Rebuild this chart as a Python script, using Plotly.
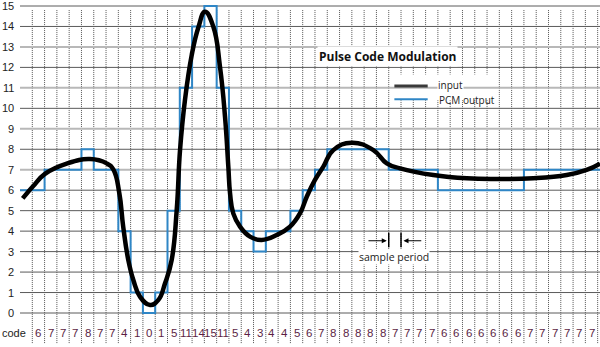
import plotly.graph_objects as go

# PCM code for each sample period (one value per cell)
codes = [6, 7, 7, 7, 8, 7, 7, 4, 1, 0, 1, 5, 11, 14, 15, 11, 5, 4, 3, 4,
         4, 5, 6, 7, 8, 8, 8, 8, 8, 7, 7, 7, 7, 6, 6, 6, 6, 6, 6, 6,
         7, 7, 7, 7, 7, 7]

# analogue input signal, sampled along the time axis (x in sample periods)
input_x = [-0.78, 0.08, 1.03, 2.8, 4.7, 6.05, 6.6, 7.08, 7.4, 7.81, 8.22, 8.76,
           9.58, 10.26, 10.8, 11.34, 11.75, 12.02, 12.42, 12.97, 13.51, 14.05,
           14.73, 15.27, 15.68, 15.95, 16.09, 16.35, 16.9, 17.71, 18.66, 19.89,
           20.97, 21.78, 22.33, 23.0, 23.68, 24.49, 25.99, 27.75, 28.84, 29.92,
           32.63, 35.35, 38.05, 40.76, 43.48, 45.1, 46.19]
input_y = [5.6, 6.2, 6.8, 7.3, 7.52, 7.31, 7.0, 5.85, 4.2, 2.59, 1.61, 0.8,
           0.39, 0.64, 1.45, 2.59, 5.03, 7.96, 10.4, 12.6, 13.95, 14.72,
           13.99, 12.03, 9.59, 7.15, 5.85, 4.87, 4.22, 3.73, 3.57, 3.81,
           4.22, 4.87, 5.68, 6.5, 7.15, 7.96, 8.32, 7.96, 7.31, 7.07,
           6.74, 6.58, 6.55, 6.58, 6.74, 6.99, 7.3]

levels = list(range(0, 16))
light_levels = [7, 9, 11, 13]

X_MIN, X_MAX = -2.628, 46.19     # full figure width in sample units
GRID_X0 = -1.0                   # left edge of the grid
Y_MIN, Y_MAX = -1.661, 15.293

n = len(codes)
BLUE = "#2f86c6"
CODE_COLOR = "#5c1f45"

fig = go.Figure()

# PCM output as a held staircase
step_x = [GRID_X0] + list(range(1, n)) + [X_MAX]
step_y = codes + [codes[-1]]
fig.add_trace(go.Scatter(x=step_x, y=step_y, mode="lines", line_shape="hv",
                         line=dict(color=BLUE, width=2), hoverinfo="skip"))

# input signal
fig.add_trace(go.Scatter(x=input_x, y=input_y, mode="lines", line_shape="spline",
                         line=dict(color="black", width=4.5, smoothing=1.3),
                         hoverinfo="skip"))

shapes = []
# dotted sample-period boundaries
for i in range(n + 1):
    shapes.append(dict(type="line", layer="below", x0=i, x1=i, y0=-1.47, y1=14.8,
                       line=dict(color="#555555", width=1, dash="1px,1px")))
# white panel behind the legend
shapes.append(dict(type="rect", layer="below", x0=29.3, x1=37.8, y0=10.4, y1=11.65,
                   fillcolor="white", line=dict(width=0)))
# quantisation level lines
for lv in levels:
    light = lv in light_levels
    shapes.append(dict(type="line", layer="below", x0=GRID_X0, x1=X_MAX, y0=lv, y1=lv,
                       line=dict(color="#b8b8b8" if light else "#5a5a5a",
                                 width=2 if light else 1)))
# legend samples
shapes.append(dict(type="line", x0=29.46, x1=32.17, y0=11.09, y1=11.09,
                   line=dict(color="#3a3a3a", width=3)))
shapes.append(dict(type="line", x0=29.46, x1=32.17, y0=10.44, y1=10.44,
                   line=dict(color=BLUE, width=2)))
# sample period markers
for bx in (29, 30):
    shapes.append(dict(type="line", x0=bx, x1=bx, y0=3.21, y1=3.92,
                       line=dict(color="black", width=1.5)))

annotations = []
# level labels
for lv in levels:
    annotations.append(dict(x=-1.32, y=lv, text=str(lv), showarrow=False,
                            xanchor="right", yanchor="middle",
                            font=dict(family="Liberation Sans, Arial", size=11, color="#222222")))
# code row
annotations.append(dict(x=-2.628, y=-0.99, text="code", showarrow=False,
                        xanchor="left", yanchor="middle",
                        font=dict(family="Liberation Sans, Arial", size=11, color="#222222")))
for i, c in enumerate(codes):
    annotations.append(dict(x=i + 0.5, y=-0.99, text=str(c), showarrow=False,
                            xanchor="center", yanchor="middle",
                            font=dict(family="Liberation Sans, Arial", size=11.5, color=CODE_COLOR)))
# title
annotations.append(dict(x=28.94, y=12.52, text="<b>Pulse Code Modulation</b>", showarrow=False,
                        xanchor="center", yanchor="middle", bgcolor="white", borderpad=1,
                        font=dict(family="Open Sans", size=12, color="#111111")))
# legend text
annotations.append(dict(x=32.9, y=11.12, text="input", showarrow=False,
                        xanchor="left", yanchor="middle", bgcolor="white", borderpad=0,
                        font=dict(family="Open Sans", size=10, color="#222222")))
annotations.append(dict(x=32.9, y=10.42, text="PCM output", showarrow=False,
                        xanchor="left", yanchor="middle",
                        font=dict(family="Open Sans", size=10, color="#222222")))
# sample period arrows and label
annotations.append(dict(x=28.84, y=3.53, ax=27.23, ay=3.53, xref="x", yref="y",
                        axref="x", ayref="y", text="", showarrow=True,
                        arrowhead=2, arrowsize=1, arrowwidth=1, arrowcolor="black"))
annotations.append(dict(x=30.2, y=3.53, ax=31.77, ay=3.53, xref="x", yref="y",
                        axref="x", ayref="y", text="", showarrow=True,
                        arrowhead=2, arrowsize=1, arrowwidth=1, arrowcolor="black"))
annotations.append(dict(x=29.45, y=2.72, text="sample period", showarrow=False,
                        xanchor="center", yanchor="middle", bgcolor="white", borderpad=0,
                        font=dict(family="Open Sans", size=10.5, color="#222222")))

fig.update_layout(
    width=600, height=347,
    margin=dict(l=0, r=0, t=0, b=0),
    paper_bgcolor="white", plot_bgcolor="white",
    showlegend=False,
    xaxis=dict(range=[X_MIN, X_MAX], visible=False, fixedrange=True),
    yaxis=dict(range=[Y_MIN, Y_MAX], visible=False, fixedrange=True),
    shapes=shapes,
    annotations=annotations,
)

fig.write_html("out.html")
